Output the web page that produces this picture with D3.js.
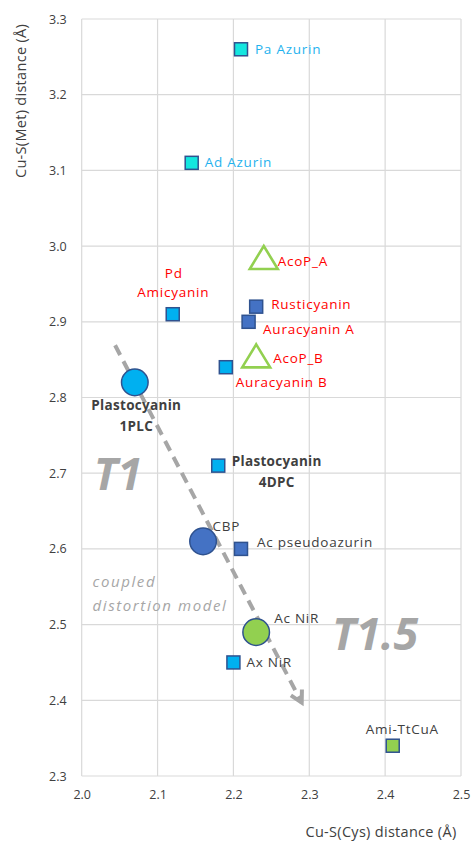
<!DOCTYPE html>
<html>
<head>
<meta charset="utf-8">
<script src="https://cdn.jsdelivr.net/npm/d3@7"></script>
<style>
  html, body { margin: 0; padding: 0; background: #fff; }
  svg text { font-family: "Open Sans", "DejaVu Sans", sans-serif; }
</style>
</head>
<body>
<svg id="chart" width="473" height="844"></svg>
<script>
// ---------------- data ----------------
const proteins = ["Pa Azurin", "Ad Azurin", "Pd Amicyanin", "Rusticyanin", "Auracyanin A",
  "AcoP_A", "AcoP_B", "Auracyanin B", "Plastocyanin 1PLC", "Plastocyanin 4DPC",
  "CBP", "Ac pseudoazurin", "Ac NiR", "Ax NiR", "Ami-TtCuA"];
const cuSCys = [2.21, 2.145, 2.12, 2.23, 2.22, 2.24, 2.23, 2.19, 2.07, 2.18, 2.16, 2.21, 2.23, 2.20, 2.41];
const cuSMet = [3.26, 3.11, 2.91, 2.92, 2.90, 2.985, 2.855, 2.84, 2.82, 2.71, 2.61, 2.60, 2.49, 2.45, 2.34];
const markerKind = ["azurin", "azurin", "light", "dark", "dark", "acop", "acop", "light",
  "lightCircle", "light", "darkCircle", "dark", "greenCircle", "light", "green"];
const xTicks = [2.0, 2.1, 2.2, 2.3, 2.4, 2.5];
const yTicks = [2.3, 2.4, 2.5, 2.6, 2.7, 2.8, 2.9, 3.0, 3.1, 3.2, 3.3];
// coupled distortion model arrow (Cu-S(Cys), Cu-S(Met)) start / end
const arrowCys = [2.044, 2.29];
const arrowMet = [2.869, 2.397];

// ---------------- styles / layout ----------------
const kindStyle = {
  azurin:      { shape: "square",   fill: "#14E6DF" },
  light:       { shape: "square",   fill: "#00B0F0" },
  dark:        { shape: "square",   fill: "#4472C4" },
  green:       { shape: "square",   fill: "#92D050" },
  acop:        { shape: "triangle", fill: "#FFFFFF" },
  lightCircle: { shape: "circle",   fill: "#00B0F0" },
  darkCircle:  { shape: "circle",   fill: "#4472C4" },
  greenCircle: { shape: "circle",   fill: "#92D050" }
};
const RED = "#FF0000", BLUE = "#1FB2EE", DARK = "#404040";
// label lines: [text, dx, dy, anchor, color, weight]
const labelLayout = {
  "Pa Azurin":        [["Pa Azurin", 14, 5, "start", BLUE]],
  "Ad Azurin":        [["Ad Azurin", 13, 4.5, "start", BLUE]],
  "Pd Amicyanin":     [["Pd", 1, -36.5, "middle", RED], ["Amicyanin", 0.5, -17, "middle", RED]],
  "Rusticyanin":      [["Rusticyanin", 15, 2.5, "start", RED]],
  "Auracyanin A":     [["Auracyanin A", 14.5, 12, "start", RED]],
  "AcoP_A":           [["AcoP_A", 14, 9, "start", RED]],
  "AcoP_B":           [["AcoP_B", 17, 7.5, "start", RED]],
  "Auracyanin B":     [["Auracyanin B", 10, 20, "start", RED]],
  "Plastocyanin 1PLC":[["Plastocyanin", 1.5, 28, "middle", DARK, "bold"], ["1PLC", 1.5, 49, "middle", DARK, "bold"]],
  "Plastocyanin 4DPC":[["Plastocyanin", 58.5, 0.5, "middle", DARK, "bold"], ["4DPC", 58.5, 21, "middle", DARK, "bold"]],
  "CBP":              [["CBP", 9.5, -10.3, "start", DARK]],
  "Ac pseudoazurin":  [["Ac pseudoazurin", 16, -1.5, "start", DARK]],
  "Ac NiR":           [["Ac NiR", 18, -9, "start", DARK]],
  "Ax NiR":           [["Ax NiR", 13, 5, "start", DARK]],
  "Ami-TtCuA":        [["Ami-TtCuA", 9.6, -11.4, "middle", DARK]]
};

const W = 473, H = 844;
const margin = { left: 81.7, right: W - 461, top: 19, bottom: H - 776 };

const svg = d3.select("#chart");
const x = d3.scaleLinear().domain([2.0, 2.5]).range([margin.left, W - margin.right]);
const y = d3.scaleLinear().domain([2.3, 3.3]).range([H - margin.bottom, margin.top]);

// gridlines
const grid = svg.append("g").attr("stroke", "#D9D9D9").attr("stroke-width", 1.2);
grid.selectAll("line.v").data(xTicks).join("line")
  .attr("x1", d => x(d)).attr("x2", d => x(d))
  .attr("y1", y(3.3)).attr("y2", y(2.3));
grid.selectAll("line.h").data(yTicks).join("line")
  .attr("y1", d => y(d)).attr("y2", d => y(d))
  .attr("x1", x(2.0)).attr("x2", x(2.5));

// axes (labels only, via d3 axes)
const xAxis = d3.axisBottom(x).tickValues(xTicks).tickFormat(d3.format(".1f")).tickSize(0).tickPadding(14);
const yAxis = d3.axisLeft(y).tickValues(yTicks).tickFormat(d3.format(".1f")).tickSize(0).tickPadding(15);
const gx = svg.append("g").attr("transform", `translate(0,${y(2.3)})`).call(xAxis);
const gy = svg.append("g").attr("transform", `translate(${x(2.0)},0)`).call(yAxis);
[gx, gy].forEach(g => {
  g.select(".domain").remove();
  g.selectAll("text").attr("fill", DARK).style("font-size", "12.5px")
    .style("font-family", "'Open Sans', sans-serif");
});

// axis titles
svg.append("text").attr("x", 456.5).attr("y", 837).attr("text-anchor", "end")
  .attr("fill", DARK).style("font-size", "14.5px").style("letter-spacing", "0.3px").text("Cu-S(Cys) distance (Å)");
svg.append("text").attr("transform", "translate(25.5,101) rotate(-90)").attr("text-anchor", "middle")
  .attr("fill", DARK).style("font-size", "14.5px").style("letter-spacing", "0.3px").text("Cu-S(Met) distance (Å)");

// region annotations
const ann = svg.append("g").attr("fill", "#A6A6A6");
ann.append("text").attr("x", x(2.0) + 12).attr("y", 490).style("font-size", "45px")
  .style("font-weight", "bold").style("font-style", "italic").text("T1");
ann.append("text").attr("x", 332).attr("y", 650).style("font-size", "45px")
  .style("font-weight", "bold").style("font-style", "italic").text("T1.5");
ann.append("text").attr("x", 92.5).attr("y", 587).style("font-size", "15px")
  .style("font-style", "italic").style("letter-spacing", "1.6px").text("coupled");
ann.append("text").attr("x", 92.5).attr("y", 611).style("font-size", "15px")
  .style("font-style", "italic").style("letter-spacing", "1.6px").text("distortion model");

// arrow
const ax0 = x(arrowCys[0]), ay0 = y(arrowMet[0]), ax1 = x(arrowCys[1]), ay1 = y(arrowMet[1]);
svg.append("line").attr("x1", ax0).attr("y1", ay0).attr("x2", ax1).attr("y2", ay1)
  .attr("stroke", "#A6A6A6").attr("stroke-width", 4).attr("stroke-dasharray", "11,7");
{
  const ang = Math.atan2(ay1 - ay0, ax1 - ax0), len = 13, spread = 0.5;
  const p1 = [ax1 - len * Math.cos(ang - spread), ay1 - len * Math.sin(ang - spread)];
  const p2 = [ax1 - len * Math.cos(ang + spread), ay1 - len * Math.sin(ang + spread)];
  svg.append("path").attr("d", `M${p1}L${ax1},${ay1}L${p2}`).attr("fill", "none")
    .attr("stroke", "#A6A6A6").attr("stroke-width", 4).attr("stroke-linejoin", "miter");
}

// markers
const pts = proteins.map((n, i) => ({ name: n, cx: x(cuSCys[i]), cy: y(cuSMet[i]), st: kindStyle[markerKind[i]] }));
const mg = svg.append("g");
pts.forEach(p => {
  if (p.st.shape === "square") {
    mg.append("rect").attr("x", p.cx - 6.5).attr("y", p.cy - 6.5).attr("width", 13).attr("height", 13)
      .attr("fill", p.st.fill).attr("stroke", "#2F528F").attr("stroke-width", 1.5);
  } else if (p.st.shape === "circle") {
    mg.append("circle").attr("cx", p.cx).attr("cy", p.cy).attr("r", 13.3)
      .attr("fill", p.st.fill).attr("stroke", "#2F528F").attr("stroke-width", 1.5);
  } else {
    const w = 28, h = 23;
    mg.append("path").attr("d", `M${p.cx},${p.cy - h / 2}L${p.cx + w / 2},${p.cy + h / 2}L${p.cx - w / 2},${p.cy + h / 2}Z`)
      .attr("fill", p.st.fill).attr("stroke", "#92D050").attr("stroke-width", 2.6);
  }
});

// labels
const lg = svg.append("g").style("font-size", "13.5px");
pts.forEach(p => {
  (labelLayout[p.name] || []).forEach(([t, dx, dy, anchor, col, wt]) => {
    lg.append("text").attr("x", p.cx + dx).attr("y", p.cy + dy).attr("text-anchor", anchor)
      .attr("fill", col).style("font-weight", wt || "normal")
      .style("letter-spacing", wt ? "0.3px" : "0.75px").text(t);
  });
});
</script>
</body>
</html>
